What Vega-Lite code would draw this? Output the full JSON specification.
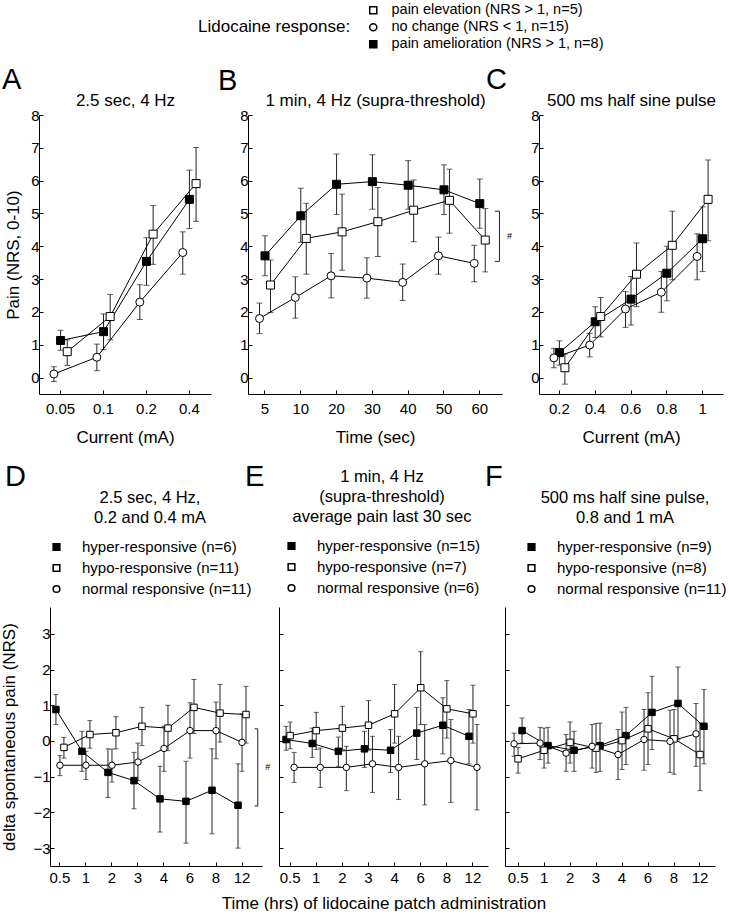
{
"$schema":"https://vega.github.io/schema/vega-lite/v6.json",
"background":"white",
"padding":{"left":0,"top":3,"right":0,"bottom":0},
"config":{
 "font":"Liberation Sans",
 "view":{"stroke":null},
 "axis":{"grid":false,"domainColor":"#000","tickColor":"#000","labelColor":"#000","titleColor":"#000","labelFontSize":15,"titleFontSize":17,"titleFontWeight":"normal","tickSize":-4,"domainWidth":1,"tickWidth":1,"labelAngle":0},
 "axisX":{"labelPadding":11,"titlePadding":13},
 "axisY":{"labelPadding":4,"titlePadding":8},
 "legend":{"labelFontSize":15,"titleFontWeight":"normal","labelColor":"#000","titleColor":"#000","labelLimit":400,"titleLimit":400,"symbolSize":45},
 "title":{"fontSize":29,"fontWeight":"normal","anchor":"start","frame":"group","color":"#000","offset":0}
},
"datasets":{
 "dA":[
  {"x":0.05,"g":"pain amelioration (NRS > 1, n=8)","m":1.13,"lo":0.83,"hi":1.44},
  {"x":0.1,"g":"pain amelioration (NRS > 1, n=8)","m":1.40,"lo":0.85,"hi":1.94},
  {"x":0.2,"g":"pain amelioration (NRS > 1, n=8)","m":3.54,"lo":2.81,"hi":4.26},
  {"x":0.4,"g":"pain amelioration (NRS > 1, n=8)","m":5.43,"lo":4.54,"hi":6.32},
  {"x":0.05,"g":"pain elevation (NRS > 1, n=5)","m":0.79,"lo":0.37,"hi":1.15},
  {"x":0.1,"g":"pain elevation (NRS > 1, n=5)","m":1.86,"lo":1.15,"hi":2.53},
  {"x":0.2,"g":"pain elevation (NRS > 1, n=5)","m":4.37,"lo":3.45,"hi":5.24},
  {"x":0.4,"g":"pain elevation (NRS > 1, n=5)","m":5.91,"lo":4.76,"hi":7.01},
  {"x":0.05,"g":"no change (NRS < 1, n=15)","m":0.11,"lo":-0.12,"hi":0.33},
  {"x":0.1,"g":"no change (NRS < 1, n=15)","m":0.62,"lo":0.21,"hi":1.02},
  {"x":0.2,"g":"no change (NRS < 1, n=15)","m":2.30,"lo":1.77,"hi":2.83},
  {"x":0.4,"g":"no change (NRS < 1, n=15)","m":3.81,"lo":3.15,"hi":4.44}
 ],
 "dB":[
  {"x":5,"g":"pain amelioration (NRS > 1, n=8)","m":3.71,"lo":3.10,"hi":4.32},
  {"x":10,"g":"pain amelioration (NRS > 1, n=8)","m":4.93,"lo":4.12,"hi":5.77},
  {"x":20,"g":"pain amelioration (NRS > 1, n=8)","m":5.89,"lo":4.97,"hi":6.81},
  {"x":30,"g":"pain amelioration (NRS > 1, n=8)","m":5.97,"lo":5.13,"hi":6.79},
  {"x":40,"g":"pain amelioration (NRS > 1, n=8)","m":5.86,"lo":5.13,"hi":6.61},
  {"x":50,"g":"pain amelioration (NRS > 1, n=8)","m":5.72,"lo":4.97,"hi":6.48},
  {"x":60,"g":"pain amelioration (NRS > 1, n=8)","m":5.30,"lo":4.55,"hi":6.05},
  {"x":5,"g":"pain elevation (NRS > 1, n=5)","m":2.82,"lo":1.98,"hi":3.58},
  {"x":10,"g":"pain elevation (NRS > 1, n=5)","m":4.24,"lo":3.15,"hi":5.31},
  {"x":20,"g":"pain elevation (NRS > 1, n=5)","m":4.44,"lo":3.27,"hi":5.59},
  {"x":30,"g":"pain elevation (NRS > 1, n=5)","m":4.75,"lo":3.69,"hi":5.79},
  {"x":40,"g":"pain elevation (NRS > 1, n=5)","m":5.10,"lo":4.14,"hi":6.02},
  {"x":50,"g":"pain elevation (NRS > 1, n=5)","m":5.40,"lo":4.40,"hi":6.35},
  {"x":60,"g":"pain elevation (NRS > 1, n=5)","m":4.19,"lo":3.22,"hi":5.15},
  {"x":5,"g":"no change (NRS < 1, n=15)","m":1.80,"lo":1.34,"hi":2.27},
  {"x":10,"g":"no change (NRS < 1, n=15)","m":2.44,"lo":1.81,"hi":3.07},
  {"x":20,"g":"no change (NRS < 1, n=15)","m":3.10,"lo":2.43,"hi":3.78},
  {"x":30,"g":"no change (NRS < 1, n=15)","m":3.03,"lo":2.42,"hi":3.65},
  {"x":40,"g":"no change (NRS < 1, n=15)","m":2.90,"lo":2.35,"hi":3.46},
  {"x":50,"g":"no change (NRS < 1, n=15)","m":3.71,"lo":3.15,"hi":4.28},
  {"x":60,"g":"no change (NRS < 1, n=15)","m":3.48,"lo":2.92,"hi":4.03}
 ],
 "dC":[
  {"x":0.2,"g":"pain amelioration (NRS > 1, n=8)","m":0.76,"lo":0.38,"hi":1.12},
  {"x":0.4,"g":"pain amelioration (NRS > 1, n=8)","m":1.70,"lo":1.22,"hi":2.16},
  {"x":0.6,"g":"pain amelioration (NRS > 1, n=8)","m":2.39,"lo":1.60,"hi":3.08},
  {"x":0.8,"g":"pain amelioration (NRS > 1, n=8)","m":3.18,"lo":2.34,"hi":4.00},
  {"x":1,"g":"pain amelioration (NRS > 1, n=8)","m":4.23,"lo":3.23,"hi":5.20},
  {"x":0.2,"g":"pain elevation (NRS > 1, n=5)","m":0.30,"lo":-0.20,"hi":0.72},
  {"x":0.4,"g":"pain elevation (NRS > 1, n=5)","m":1.86,"lo":1.24,"hi":2.44},
  {"x":0.6,"g":"pain elevation (NRS > 1, n=5)","m":3.15,"lo":2.16,"hi":4.10},
  {"x":0.8,"g":"pain elevation (NRS > 1, n=5)","m":4.03,"lo":2.98,"hi":5.07},
  {"x":1,"g":"pain elevation (NRS > 1, n=5)","m":5.43,"lo":4.17,"hi":6.63},
  {"x":0.2,"g":"no change (NRS < 1, n=15)","m":0.60,"lo":0.30,"hi":0.89},
  {"x":0.4,"g":"no change (NRS < 1, n=15)","m":0.99,"lo":0.63,"hi":1.35},
  {"x":0.6,"g":"no change (NRS < 1, n=15)","m":2.09,"lo":1.53,"hi":2.62},
  {"x":0.8,"g":"no change (NRS < 1, n=15)","m":2.60,"lo":1.99,"hi":3.23},
  {"x":1,"g":"no change (NRS < 1, n=15)","m":3.69,"lo":2.98,"hi":4.38}
 ],
 "dD":[
  {"x":0.5,"g":"hyper-responsive (n=6)","m":0.88,"lo":0.46,"hi":1.30},
  {"x":1,"g":"hyper-responsive (n=6)","m":-0.29,"lo":-0.85,"hi":0.27},
  {"x":2,"g":"hyper-responsive (n=6)","m":-0.88,"lo":-1.58,"hi":-0.22},
  {"x":3,"g":"hyper-responsive (n=6)","m":-1.11,"lo":-1.90,"hi":-0.32},
  {"x":4,"g":"hyper-responsive (n=6)","m":-1.62,"lo":-2.55,"hi":-0.71},
  {"x":6,"g":"hyper-responsive (n=6)","m":-1.69,"lo":-2.86,"hi":-0.57},
  {"x":8,"g":"hyper-responsive (n=6)","m":-1.38,"lo":-2.60,"hi":-0.22},
  {"x":12,"g":"hyper-responsive (n=6)","m":-1.80,"lo":-3.00,"hi":-0.64},
  {"x":0.5,"g":"hypo-responsive (n=11)","m":-0.18,"lo":-0.48,"hi":0.10},
  {"x":1,"g":"hypo-responsive (n=11)","m":0.18,"lo":-0.20,"hi":0.57},
  {"x":2,"g":"hypo-responsive (n=11)","m":0.23,"lo":-0.22,"hi":0.68},
  {"x":3,"g":"hypo-responsive (n=11)","m":0.41,"lo":-0.13,"hi":0.94},
  {"x":4,"g":"hypo-responsive (n=11)","m":0.36,"lo":-0.27,"hi":1.00},
  {"x":6,"g":"hypo-responsive (n=11)","m":0.94,"lo":0.21,"hi":1.72},
  {"x":8,"g":"hypo-responsive (n=11)","m":0.78,"lo":-0.03,"hi":1.58},
  {"x":12,"g":"hypo-responsive (n=11)","m":0.74,"lo":-0.06,"hi":1.53},
  {"x":0.5,"g":"normal responsive (n=11)","m":-0.68,"lo":-0.97,"hi":-0.41},
  {"x":1,"g":"normal responsive (n=11)","m":-0.68,"lo":-1.08,"hi":-0.29},
  {"x":2,"g":"normal responsive (n=11)","m":-0.68,"lo":-1.15,"hi":-0.23},
  {"x":3,"g":"normal responsive (n=11)","m":-0.59,"lo":-1.11,"hi":-0.06},
  {"x":4,"g":"normal responsive (n=11)","m":-0.21,"lo":-0.85,"hi":0.41},
  {"x":6,"g":"normal responsive (n=11)","m":0.29,"lo":-0.48,"hi":1.07},
  {"x":8,"g":"normal responsive (n=11)","m":0.29,"lo":-0.50,"hi":1.09},
  {"x":12,"g":"normal responsive (n=11)","m":-0.04,"lo":-0.85,"hi":0.76}
 ],
 "dE":[
  {"x":0.5,"g":"hyper-responsive (n=15)","m":0.04,"lo":-0.26,"hi":0.41},
  {"x":1,"g":"hyper-responsive (n=15)","m":-0.07,"lo":-0.46,"hi":0.36},
  {"x":2,"g":"hyper-responsive (n=15)","m":-0.29,"lo":-0.71,"hi":0.11},
  {"x":3,"g":"hyper-responsive (n=15)","m":-0.22,"lo":-0.74,"hi":0.27},
  {"x":4,"g":"hyper-responsive (n=15)","m":-0.26,"lo":-0.88,"hi":0.32},
  {"x":6,"g":"hyper-responsive (n=15)","m":0.22,"lo":-0.52,"hi":0.94},
  {"x":8,"g":"hyper-responsive (n=15)","m":0.44,"lo":-0.36,"hi":1.21},
  {"x":12,"g":"hyper-responsive (n=15)","m":0.13,"lo":-0.64,"hi":0.88},
  {"x":0.5,"g":"hypo-responsive (n=7)","m":0.15,"lo":-0.22,"hi":0.53},
  {"x":1,"g":"hypo-responsive (n=7)","m":0.29,"lo":-0.24,"hi":0.80},
  {"x":2,"g":"hypo-responsive (n=7)","m":0.36,"lo":-0.24,"hi":0.97},
  {"x":3,"g":"hypo-responsive (n=7)","m":0.44,"lo":-0.26,"hi":1.13},
  {"x":4,"g":"hypo-responsive (n=7)","m":0.76,"lo":-0.06,"hi":1.58},
  {"x":6,"g":"hypo-responsive (n=7)","m":1.49,"lo":0.46,"hi":2.50},
  {"x":8,"g":"hypo-responsive (n=7)","m":0.90,"lo":0.08,"hi":1.69},
  {"x":12,"g":"hypo-responsive (n=7)","m":0.76,"lo":-0.06,"hi":1.56},
  {"x":0.5,"g":"normal responsive (n=6)","m":-0.74,"lo":-1.16,"hi":-0.32},
  {"x":1,"g":"normal responsive (n=6)","m":-0.74,"lo":-1.30,"hi":-0.20},
  {"x":2,"g":"normal responsive (n=6)","m":-0.74,"lo":-1.39,"hi":-0.15},
  {"x":3,"g":"normal responsive (n=6)","m":-0.64,"lo":-1.44,"hi":0.13},
  {"x":4,"g":"normal responsive (n=6)","m":-0.74,"lo":-1.64,"hi":0.13},
  {"x":6,"g":"normal responsive (n=6)","m":-0.64,"lo":-1.79,"hi":0.46},
  {"x":8,"g":"normal responsive (n=6)","m":-0.55,"lo":-1.72,"hi":0.60},
  {"x":12,"g":"normal responsive (n=6)","m":-0.74,"lo":-1.93,"hi":0.46}
 ],
 "dF":[
  {"x":0.5,"g":"hyper-responsive (n=9)","m":0.29,"lo":-0.06,"hi":0.64},
  {"x":1,"g":"hyper-responsive (n=9)","m":-0.13,"lo":-0.62,"hi":0.38},
  {"x":2,"g":"hyper-responsive (n=9)","m":-0.26,"lo":-0.85,"hi":0.27},
  {"x":3,"g":"hyper-responsive (n=9)","m":-0.13,"lo":-0.85,"hi":0.50},
  {"x":4,"g":"hyper-responsive (n=9)","m":0.15,"lo":-0.66,"hi":0.94},
  {"x":6,"g":"hyper-responsive (n=9)","m":0.80,"lo":-0.24,"hi":1.81},
  {"x":8,"g":"hyper-responsive (n=9)","m":1.05,"lo":0.03,"hi":2.07},
  {"x":12,"g":"hyper-responsive (n=9)","m":0.41,"lo":-0.64,"hi":1.44},
  {"x":0.5,"g":"hypo-responsive (n=8)","m":-0.50,"lo":-0.90,"hi":-0.18},
  {"x":1,"g":"hypo-responsive (n=8)","m":-0.26,"lo":-0.76,"hi":0.36},
  {"x":2,"g":"hypo-responsive (n=8)","m":-0.04,"lo":-0.62,"hi":0.53},
  {"x":3,"g":"hypo-responsive (n=8)","m":-0.20,"lo":-0.88,"hi":0.49},
  {"x":4,"g":"hypo-responsive (n=8)","m":0.01,"lo":-0.80,"hi":0.81},
  {"x":6,"g":"hypo-responsive (n=8)","m":0.34,"lo":-0.66,"hi":1.35},
  {"x":8,"g":"hypo-responsive (n=8)","m":0.06,"lo":-0.93,"hi":0.88},
  {"x":12,"g":"hypo-responsive (n=8)","m":-0.38,"lo":-1.39,"hi":0.50},
  {"x":0.5,"g":"normal responsive (n=11)","m":-0.08,"lo":-0.43,"hi":0.22},
  {"x":1,"g":"normal responsive (n=11)","m":-0.06,"lo":-0.52,"hi":0.38},
  {"x":2,"g":"normal responsive (n=11)","m":-0.34,"lo":-0.85,"hi":0.18},
  {"x":3,"g":"normal responsive (n=11)","m":-0.15,"lo":-0.76,"hi":0.46},
  {"x":4,"g":"normal responsive (n=11)","m":-0.38,"lo":-1.08,"hi":0.32},
  {"x":6,"g":"normal responsive (n=11)","m":0.04,"lo":-0.82,"hi":0.88},
  {"x":8,"g":"normal responsive (n=11)","m":-0.01,"lo":-0.88,"hi":0.86},
  {"x":12,"g":"normal responsive (n=11)","m":0.20,"lo":-0.71,"hi":1.05}
 ],
 "bB":[{"from":3.54,"to":5.07,"mid":4.3,"label":"#"}],
 "bD":[{"from":-1.82,"to":0.34,"mid":-0.74,"label":"#"}]
},
"vconcat":[
 {
  "hconcat":[
   {
    "width":172,"height":279,
    "title":{"text":"A","dx":-37,"dy":8},
    "layer":[
     {
      "data":{"name":"dA"},
      "encoding":{
       "x":{"field":"x","type":"ordinal","scale":{"type":"band","domain":[0.05,0.1,0.2,0.4],"paddingInner":0.535,"paddingOuter":0.27},"axis":{"title":"Current (mA)"}},
       "xOffset":{"field":"g","type":"nominal","scale":{"domain":["no change (NRS < 1, n=15)","pain amelioration (NRS > 1, n=8)","pain elevation (NRS > 1, n=5)"]}}
      },
      "layer":[
       {"mark":{"type":"rule","color":"#222","strokeWidth":1},"encoding":{"y":{"field":"lo","type":"quantitative","scale":{"domain":[-0.5,8],"nice":false,"zero":false},"axis":{"title":"Pain (NRS, 0-10)","values":[0,1,2,3,4,5,6,7,8]}},"y2":{"field":"hi"}}},
       {"mark":{"type":"tick","color":"#222","size":6,"thickness":1},"encoding":{"y":{"field":"lo","type":"quantitative","scale":{"domain":[-0.5,8],"nice":false,"zero":false},"axis":{"title":"Pain (NRS, 0-10)","values":[0,1,2,3,4,5,6,7,8]}}}},
       {"mark":{"type":"tick","color":"#222","size":6,"thickness":1},"encoding":{"y":{"field":"hi","type":"quantitative","scale":{"domain":[-0.5,8],"nice":false,"zero":false},"axis":{"title":"Pain (NRS, 0-10)","values":[0,1,2,3,4,5,6,7,8]}}}},
       {"mark":{"type":"line","color":"#000","strokeWidth":1},"encoding":{"y":{"field":"m","type":"quantitative","scale":{"domain":[-0.5,8],"nice":false,"zero":false},"axis":{"title":"Pain (NRS, 0-10)","values":[0,1,2,3,4,5,6,7,8]}},"detail":{"field":"g"}}},
       {"mark":{"type":"point","filled":true,"stroke":"#000","strokeWidth":1,"size":64,"opacity":1},"encoding":{"y":{"field":"m","type":"quantitative","scale":{"domain":[-0.5,8],"nice":false,"zero":false},"axis":{"title":"Pain (NRS, 0-10)","values":[0,1,2,3,4,5,6,7,8]}},
         "shape":{"field":"g","type":"nominal","scale":{"domain":["pain elevation (NRS > 1, n=5)","no change (NRS < 1, n=15)","pain amelioration (NRS > 1, n=8)"],"range":["square","circle","square"]},"legend":null},
         "fill":{"field":"g","type":"nominal","scale":{"domain":["pain elevation (NRS > 1, n=5)","no change (NRS < 1, n=15)","pain amelioration (NRS > 1, n=8)"],"range":["#fff","#fff","#000"]},"legend":null}}}
      ]
     },
     {
      "data":{"values":[]},
      "mark":{"type":"rule","color":"#222"},
      "encoding":{
       "x":{"field":"bx","type":"quantitative","scale":{"domain":[0,1]},"axis":{"orient":"top","title":"2.5 sec, 4 Hz","labels":false,"ticks":false,"domain":false,"titlePadding":6}},
       "y":{"field":"from","type":"quantitative","scale":{"domain":[-0.5,8],"nice":false,"zero":false},"axis":{"title":"Pain (NRS, 0-10)","values":[0,1,2,3,4,5,6,7,8]}}
      }
     }
    ],
    "resolve":{"scale":{"x":"independent"},"axis":{"x":"independent"}}
   },
   {
    "width":254,"height":279,
    "title":{"text":"B","dx":-30,"dy":97},
    "layer":[
     {
      "data":{"name":"dB"},
      "encoding":{
       "x":{"field":"x","type":"ordinal","scale":{"type":"band","domain":[5,10,20,30,40,50,60],"paddingInner":0.54,"paddingOuter":0.318,"align":0.385},"axis":{"title":"Time (sec)"}},
       "xOffset":{"field":"g","type":"nominal","scale":{"domain":["no change (NRS < 1, n=15)","pain amelioration (NRS > 1, n=8)","pain elevation (NRS > 1, n=5)"]}}
      },
      "layer":[
       {"mark":{"type":"rule","color":"#222","strokeWidth":1},"encoding":{"y":{"field":"lo","type":"quantitative","scale":{"domain":[-0.5,8],"nice":false,"zero":false},"axis":{"title":null,"values":[0,1,2,3,4,5,6,7,8]}},"y2":{"field":"hi"}}},
       {"mark":{"type":"tick","color":"#222","size":6,"thickness":1},"encoding":{"y":{"field":"lo","type":"quantitative","scale":{"domain":[-0.5,8],"nice":false,"zero":false},"axis":{"title":null,"values":[0,1,2,3,4,5,6,7,8]}}}},
       {"mark":{"type":"tick","color":"#222","size":6,"thickness":1},"encoding":{"y":{"field":"hi","type":"quantitative","scale":{"domain":[-0.5,8],"nice":false,"zero":false},"axis":{"title":null,"values":[0,1,2,3,4,5,6,7,8]}}}},
       {"mark":{"type":"line","color":"#000","strokeWidth":1},"encoding":{"y":{"field":"m","type":"quantitative","scale":{"domain":[-0.5,8],"nice":false,"zero":false},"axis":{"title":null,"values":[0,1,2,3,4,5,6,7,8]}},"detail":{"field":"g"}}},
       {"mark":{"type":"point","filled":true,"stroke":"#000","strokeWidth":1,"size":64,"opacity":1},"encoding":{"y":{"field":"m","type":"quantitative","scale":{"domain":[-0.5,8],"nice":false,"zero":false},"axis":{"title":null,"values":[0,1,2,3,4,5,6,7,8]}},
         "shape":{"field":"g","type":"nominal","scale":{"domain":["pain elevation (NRS > 1, n=5)","no change (NRS < 1, n=15)","pain amelioration (NRS > 1, n=8)"],"range":["square","circle","square"]},"legend":{"orient":"none","legendX":-50,"legendY":-112,"title":"Lidocaine response:","titleOrient":"left","titleAnchor":"middle","titleBaseline":"middle","titleFontSize":17,"titlePadding":15,"labelFontSize":14.5,"rowPadding":2,"symbolSize":50,"labelOffset":11,"encode":{"symbols":{"update":{"stroke":{"value":"#000"},"strokeWidth":{"value":1}}}}}},
         "fill":{"field":"g","type":"nominal","scale":{"domain":["pain elevation (NRS > 1, n=5)","no change (NRS < 1, n=15)","pain amelioration (NRS > 1, n=8)"],"range":["#fff","#fff","#000"]},"legend":{"orient":"none","legendX":-50,"legendY":-112,"title":"Lidocaine response:","titleOrient":"left","titleAnchor":"middle","titleBaseline":"middle","titleFontSize":17,"titlePadding":15,"labelFontSize":14.5,"rowPadding":2,"symbolSize":50,"labelOffset":11,"encode":{"symbols":{"update":{"stroke":{"value":"#000"},"strokeWidth":{"value":1}}}}}}}}
      ]
     },
     {
      "data":{"name":"bB"},
      "encoding":{
       "y":{"field":"from","type":"quantitative","scale":{"domain":[-0.5,8],"nice":false,"zero":false},"axis":{"title":null,"values":[0,1,2,3,4,5,6,7,8]}}
      },
      "layer":[
       {"mark":{"type":"rule","color":"#222"},"encoding":{"x":{"datum":0.99,"type":"quantitative","scale":{"domain":[0,1]},"axis":{"orient":"top","title":"1 min, 4 Hz (supra-threshold)","labels":false,"ticks":false,"domain":false,"titlePadding":6}},"y2":{"field":"to"}}},
       {"mark":{"type":"rule","color":"#222"},"encoding":{"x":{"datum":0.972,"type":"quantitative"},"x2":{"datum":0.99}}},
       {"mark":{"type":"rule","color":"#222"},"encoding":{"x":{"datum":0.972,"type":"quantitative"},"x2":{"datum":0.99},"y":{"field":"to","type":"quantitative","scale":{"domain":[-0.5,8],"nice":false,"zero":false},"axis":{"title":null,"values":[0,1,2,3,4,5,6,7,8]}}}},
       {"mark":{"type":"text","fontSize":9,"align":"left","baseline":"middle","color":"#000"},"encoding":{"x":{"datum":1.02,"type":"quantitative"},"y":{"field":"mid","type":"quantitative","scale":{"domain":[-0.5,8],"nice":false,"zero":false},"axis":{"title":null,"values":[0,1,2,3,4,5,6,7,8]}},"text":{"field":"label"}}}
      ]
     }
    ],
    "resolve":{"scale":{"x":"independent"},"axis":{"x":"independent"}}
   },
   {
    "width":184,"height":279,
    "title":{"text":"C","dx":-53,"dy":8},
    "layer":[
     {
      "data":{"name":"dC"},
      "encoding":{
       "x":{"field":"x","type":"ordinal","scale":{"type":"band","domain":[0.2,0.4,0.6,0.8,1],"paddingInner":0.54,"paddingOuter":0.34},"axis":{"title":"Current (mA)"}},
       "xOffset":{"field":"g","type":"nominal","scale":{"domain":["no change (NRS < 1, n=15)","pain amelioration (NRS > 1, n=8)","pain elevation (NRS > 1, n=5)"]}}
      },
      "layer":[
       {"mark":{"type":"rule","color":"#222","strokeWidth":1},"encoding":{"y":{"field":"lo","type":"quantitative","scale":{"domain":[-0.5,8],"nice":false,"zero":false},"axis":{"title":null,"values":[0,1,2,3,4,5,6,7,8]}},"y2":{"field":"hi"}}},
       {"mark":{"type":"tick","color":"#222","size":6,"thickness":1},"encoding":{"y":{"field":"lo","type":"quantitative","scale":{"domain":[-0.5,8],"nice":false,"zero":false},"axis":{"title":null,"values":[0,1,2,3,4,5,6,7,8]}}}},
       {"mark":{"type":"tick","color":"#222","size":6,"thickness":1},"encoding":{"y":{"field":"hi","type":"quantitative","scale":{"domain":[-0.5,8],"nice":false,"zero":false},"axis":{"title":null,"values":[0,1,2,3,4,5,6,7,8]}}}},
       {"mark":{"type":"line","color":"#000","strokeWidth":1},"encoding":{"y":{"field":"m","type":"quantitative","scale":{"domain":[-0.5,8],"nice":false,"zero":false},"axis":{"title":null,"values":[0,1,2,3,4,5,6,7,8]}},"detail":{"field":"g"}}},
       {"mark":{"type":"point","filled":true,"stroke":"#000","strokeWidth":1,"size":64,"opacity":1},"encoding":{"y":{"field":"m","type":"quantitative","scale":{"domain":[-0.5,8],"nice":false,"zero":false},"axis":{"title":null,"values":[0,1,2,3,4,5,6,7,8]}},
         "shape":{"field":"g","type":"nominal","scale":{"domain":["pain elevation (NRS > 1, n=5)","no change (NRS < 1, n=15)","pain amelioration (NRS > 1, n=8)"],"range":["square","circle","square"]},"legend":null},
         "fill":{"field":"g","type":"nominal","scale":{"domain":["pain elevation (NRS > 1, n=5)","no change (NRS < 1, n=15)","pain amelioration (NRS > 1, n=8)"],"range":["#fff","#fff","#000"]},"legend":null}}}
      ]
     },
     {
      "data":{"values":[]},
      "mark":{"type":"rule","color":"#222"},
      "encoding":{
       "x":{"field":"bx","type":"quantitative","scale":{"domain":[0,1]},"axis":{"orient":"top","title":"500 ms half sine pulse","labels":false,"ticks":false,"domain":false,"titlePadding":6}},
       "y":{"field":"from","type":"quantitative","scale":{"domain":[-0.5,8],"nice":false,"zero":false},"axis":{"title":null,"values":[0,1,2,3,4,5,6,7,8]}}
      }
     }
    ],
    "resolve":{"scale":{"x":"independent"},"axis":{"x":"independent"}}
   }
  ],
  "spacing":37,
  "bounds":"flush",
  "resolve":{"scale":{"x":"independent","y":"independent","xOffset":"independent","shape":"independent","fill":"independent"}}
 },
 {
  "hconcat":[
   {"width":11,"height":10,"data":{"values":[]},"mark":{"type":"point","opacity":0}},
   {
    "hconcat":[
     {
      "width":212,"height":259,
      "title":{"text":"D","dx":-45,"dy":6},
      "layer":[
       {
        "data":{"name":"dD"},
        "encoding":{
         "x":{"field":"x","type":"ordinal","scale":{"type":"band","domain":[0.5,1,2,3,4,6,8,12],"paddingInner":0.54,"paddingOuter":0.345,"align":0.22},"axis":{"title":null,"labelPadding":8}},
         "xOffset":{"field":"g","type":"nominal","scale":{"domain":["hyper-responsive (n=6)","normal responsive (n=11)","hypo-responsive (n=11)"]}}
        },
        "layer":[
         {"mark":{"type":"rule","color":"#222","strokeWidth":1},"encoding":{"y":{"field":"lo","type":"quantitative","scale":{"domain":[-3.5,3.75],"nice":false,"zero":false},"axis":{"title":"delta spontaneous pain (NRS)","titlePadding":14,"values":[-3,-2,-1,0,1,2,3]}},"y2":{"field":"hi"}}},
         {"mark":{"type":"tick","color":"#222","size":5,"thickness":1},"encoding":{"y":{"field":"lo","type":"quantitative","scale":{"domain":[-3.5,3.75],"nice":false,"zero":false},"axis":{"title":"delta spontaneous pain (NRS)","titlePadding":14,"values":[-3,-2,-1,0,1,2,3]}}}},
         {"mark":{"type":"tick","color":"#222","size":5,"thickness":1},"encoding":{"y":{"field":"hi","type":"quantitative","scale":{"domain":[-3.5,3.75],"nice":false,"zero":false},"axis":{"title":"delta spontaneous pain (NRS)","titlePadding":14,"values":[-3,-2,-1,0,1,2,3]}}}},
         {"mark":{"type":"line","color":"#000","strokeWidth":1},"encoding":{"y":{"field":"m","type":"quantitative","scale":{"domain":[-3.5,3.75],"nice":false,"zero":false},"axis":{"title":"delta spontaneous pain (NRS)","titlePadding":14,"values":[-3,-2,-1,0,1,2,3]}},"detail":{"field":"g"}}},
         {"mark":{"type":"point","filled":true,"stroke":"#000","strokeWidth":1,"size":42,"opacity":1},"encoding":{"y":{"field":"m","type":"quantitative","scale":{"domain":[-3.5,3.75],"nice":false,"zero":false},"axis":{"title":"delta spontaneous pain (NRS)","titlePadding":14,"values":[-3,-2,-1,0,1,2,3]}},
           "shape":{"field":"g","type":"nominal","scale":{"domain":["hyper-responsive (n=6)","hypo-responsive (n=11)","normal responsive (n=11)"],"range":["square","square","circle"]},"legend":{"orient":"none","legendX":-1,"legendY":-117,"title":["2.5 sec, 4 Hz,","0.2 and 0.4 mA"],"titleFontSize":16.5,"titleAnchor":"middle","titleAlign":"center","titleLineHeight":20,"titlePadding":13,"rowPadding":5,"labelOffset":18,"encode":{"symbols":{"update":{"stroke":{"value":"#000"},"strokeWidth":{"value":1}}}}}},
           "fill":{"field":"g","type":"nominal","scale":{"domain":["hyper-responsive (n=6)","hypo-responsive (n=11)","normal responsive (n=11)"],"range":["#000","#fff","#fff"]},"legend":{"orient":"none","legendX":-1,"legendY":-117,"title":["2.5 sec, 4 Hz,","0.2 and 0.4 mA"],"titleFontSize":16.5,"titleAnchor":"middle","titleAlign":"center","titleLineHeight":20,"titlePadding":13,"rowPadding":5,"labelOffset":18,"encode":{"symbols":{"update":{"stroke":{"value":"#000"},"strokeWidth":{"value":1}}}}}}}}
        ]
       },
       {
        "data":{"name":"bD"},
        "encoding":{
         "y":{"field":"from","type":"quantitative","scale":{"domain":[-3.5,3.75],"nice":false,"zero":false},"axis":{"title":"delta spontaneous pain (NRS)","titlePadding":14,"values":[-3,-2,-1,0,1,2,3]}}
        },
        "layer":[
         {"mark":{"type":"rule","color":"#222"},"encoding":{"x":{"datum":0.98,"type":"quantitative","scale":{"domain":[0,1]},"axis":null},"y2":{"field":"to"}}},
         {"mark":{"type":"rule","color":"#222"},"encoding":{"x":{"datum":0.965,"type":"quantitative"},"x2":{"datum":0.98}}},
         {"mark":{"type":"rule","color":"#222"},"encoding":{"x":{"datum":0.965,"type":"quantitative"},"x2":{"datum":0.98},"y":{"field":"to","type":"quantitative","scale":{"domain":[-3.5,3.75],"nice":false,"zero":false},"axis":{"title":"delta spontaneous pain (NRS)","titlePadding":14,"values":[-3,-2,-1,0,1,2,3]}}}},
         {"mark":{"type":"text","fontSize":9,"align":"left","baseline":"middle","color":"#000"},"encoding":{"x":{"datum":1.015,"type":"quantitative"},"y":{"field":"mid","type":"quantitative","scale":{"domain":[-3.5,3.75],"nice":false,"zero":false},"axis":{"title":"delta spontaneous pain (NRS)","titlePadding":14,"values":[-3,-2,-1,0,1,2,3]}},"text":{"field":"label"}}}
        ]
       }
      ],
      "resolve":{"scale":{"x":"independent"},"axis":{"x":"independent"}}
     },
     {
      "width":209,"height":259,
      "title":{"text":"E","dx":-34,"dy":27},
      "data":{"name":"dE"},
      "encoding":{
       "x":{"field":"x","type":"ordinal","scale":{"type":"band","domain":[0.5,1,2,3,4,6,8,12],"paddingInner":0.54,"paddingOuter":0.27,"align":0.36},"axis":{"title":"Time (hrs) of lidocaine patch administration","labelPadding":8,"titlePadding":10}},
       "xOffset":{"field":"g","type":"nominal","scale":{"domain":["hyper-responsive (n=15)","hypo-responsive (n=7)","normal responsive (n=6)"]}}
      },
      "layer":[
       {"mark":{"type":"rule","color":"#222","strokeWidth":1},"encoding":{"y":{"field":"lo","type":"quantitative","scale":{"domain":[-3.5,3.75],"nice":false,"zero":false},"axis":{"title":null,"labels":false,"values":[-3,-2,-1,0,1,2,3]}},"y2":{"field":"hi"}}},
       {"mark":{"type":"tick","color":"#222","size":5,"thickness":1},"encoding":{"y":{"field":"lo","type":"quantitative","scale":{"domain":[-3.5,3.75],"nice":false,"zero":false},"axis":{"title":null,"labels":false,"values":[-3,-2,-1,0,1,2,3]}}}},
       {"mark":{"type":"tick","color":"#222","size":5,"thickness":1},"encoding":{"y":{"field":"hi","type":"quantitative","scale":{"domain":[-3.5,3.75],"nice":false,"zero":false},"axis":{"title":null,"labels":false,"values":[-3,-2,-1,0,1,2,3]}}}},
       {"mark":{"type":"line","color":"#000","strokeWidth":1},"encoding":{"y":{"field":"m","type":"quantitative","scale":{"domain":[-3.5,3.75],"nice":false,"zero":false},"axis":{"title":null,"labels":false,"values":[-3,-2,-1,0,1,2,3]}},"detail":{"field":"g"}}},
       {"mark":{"type":"point","filled":true,"stroke":"#000","strokeWidth":1,"size":42,"opacity":1},"encoding":{"y":{"field":"m","type":"quantitative","scale":{"domain":[-3.5,3.75],"nice":false,"zero":false},"axis":{"title":null,"labels":false,"values":[-3,-2,-1,0,1,2,3]}},
         "shape":{"field":"g","type":"nominal","scale":{"domain":["hyper-responsive (n=15)","hypo-responsive (n=7)","normal responsive (n=6)"],"range":["square","square","circle"]},"legend":{"orient":"none","legendX":5,"legendY":-138,"title":["1 min, 4 Hz","(supra-threshold)","average pain last 30 sec"],"titleFontSize":16.5,"titleAnchor":"middle","titleAlign":"center","titleLineHeight":20,"titlePadding":13,"rowPadding":5,"labelOffset":18,"encode":{"symbols":{"update":{"stroke":{"value":"#000"},"strokeWidth":{"value":1}}}}}},
         "fill":{"field":"g","type":"nominal","scale":{"domain":["hyper-responsive (n=15)","hypo-responsive (n=7)","normal responsive (n=6)"],"range":["#000","#fff","#fff"]},"legend":{"orient":"none","legendX":5,"legendY":-138,"title":["1 min, 4 Hz","(supra-threshold)","average pain last 30 sec"],"titleFontSize":16.5,"titleAnchor":"middle","titleAlign":"center","titleLineHeight":20,"titlePadding":13,"rowPadding":5,"labelOffset":18,"encode":{"symbols":{"update":{"stroke":{"value":"#000"},"strokeWidth":{"value":1}}}}}}}}
      ]
     },
     {
      "width":210,"height":259,
      "title":{"text":"F","dx":-20,"dy":6},
      "data":{"name":"dF"},
      "encoding":{
       "x":{"field":"x","type":"ordinal","scale":{"type":"band","domain":[0.5,1,2,3,4,6,8,12],"paddingInner":0.54,"paddingOuter":0.31,"align":0.44},"axis":{"title":null,"labelPadding":8}},
       "xOffset":{"field":"g","type":"nominal","scale":{"domain":["normal responsive (n=11)","hypo-responsive (n=8)","hyper-responsive (n=9)"]}}
      },
      "layer":[
       {"mark":{"type":"rule","color":"#222","strokeWidth":1},"encoding":{"y":{"field":"lo","type":"quantitative","scale":{"domain":[-3.5,3.75],"nice":false,"zero":false},"axis":{"title":null,"labels":false,"values":[-3,-2,-1,0,1,2,3]}},"y2":{"field":"hi"}}},
       {"mark":{"type":"tick","color":"#222","size":5,"thickness":1},"encoding":{"y":{"field":"lo","type":"quantitative","scale":{"domain":[-3.5,3.75],"nice":false,"zero":false},"axis":{"title":null,"labels":false,"values":[-3,-2,-1,0,1,2,3]}}}},
       {"mark":{"type":"tick","color":"#222","size":5,"thickness":1},"encoding":{"y":{"field":"hi","type":"quantitative","scale":{"domain":[-3.5,3.75],"nice":false,"zero":false},"axis":{"title":null,"labels":false,"values":[-3,-2,-1,0,1,2,3]}}}},
       {"mark":{"type":"line","color":"#000","strokeWidth":1},"encoding":{"y":{"field":"m","type":"quantitative","scale":{"domain":[-3.5,3.75],"nice":false,"zero":false},"axis":{"title":null,"labels":false,"values":[-3,-2,-1,0,1,2,3]}},"detail":{"field":"g"}}},
       {"mark":{"type":"point","filled":true,"stroke":"#000","strokeWidth":1,"size":42,"opacity":1},"encoding":{"y":{"field":"m","type":"quantitative","scale":{"domain":[-3.5,3.75],"nice":false,"zero":false},"axis":{"title":null,"labels":false,"values":[-3,-2,-1,0,1,2,3]}},
         "shape":{"field":"g","type":"nominal","scale":{"domain":["hyper-responsive (n=9)","hypo-responsive (n=8)","normal responsive (n=11)"],"range":["square","square","circle"]},"legend":{"orient":"none","legendX":19,"legendY":-117,"title":["500 ms half sine pulse,","0.8 and 1 mA"],"titleFontSize":16.5,"titleAnchor":"middle","titleAlign":"center","titleLineHeight":20,"titlePadding":13,"rowPadding":5,"labelOffset":18,"encode":{"symbols":{"update":{"stroke":{"value":"#000"},"strokeWidth":{"value":1}}}}}},
         "fill":{"field":"g","type":"nominal","scale":{"domain":["hyper-responsive (n=9)","hypo-responsive (n=8)","normal responsive (n=11)"],"range":["#000","#fff","#fff"]},"legend":{"orient":"none","legendX":19,"legendY":-117,"title":["500 ms half sine pulse,","0.8 and 1 mA"],"titleFontSize":16.5,"titleAnchor":"middle","titleAlign":"center","titleLineHeight":20,"titlePadding":13,"rowPadding":5,"labelOffset":18,"encode":{"symbols":{"update":{"stroke":{"value":"#000"},"strokeWidth":{"value":1}}}}}}}}
      ]
     }
    ],
    "spacing":17,
    "bounds":"flush",
    "resolve":{"scale":{"x":"independent","y":"independent","xOffset":"independent","shape":"independent","fill":"independent"}}
   }
  ],
  "spacing":0,
  "bounds":"flush",
  "resolve":{"scale":{"x":"independent","y":"independent","xOffset":"independent","shape":"independent","fill":"independent"}}
 }
],
"spacing":18,
"resolve":{"scale":{"x":"independent","y":"independent","xOffset":"independent","shape":"independent","fill":"independent"}}
}
